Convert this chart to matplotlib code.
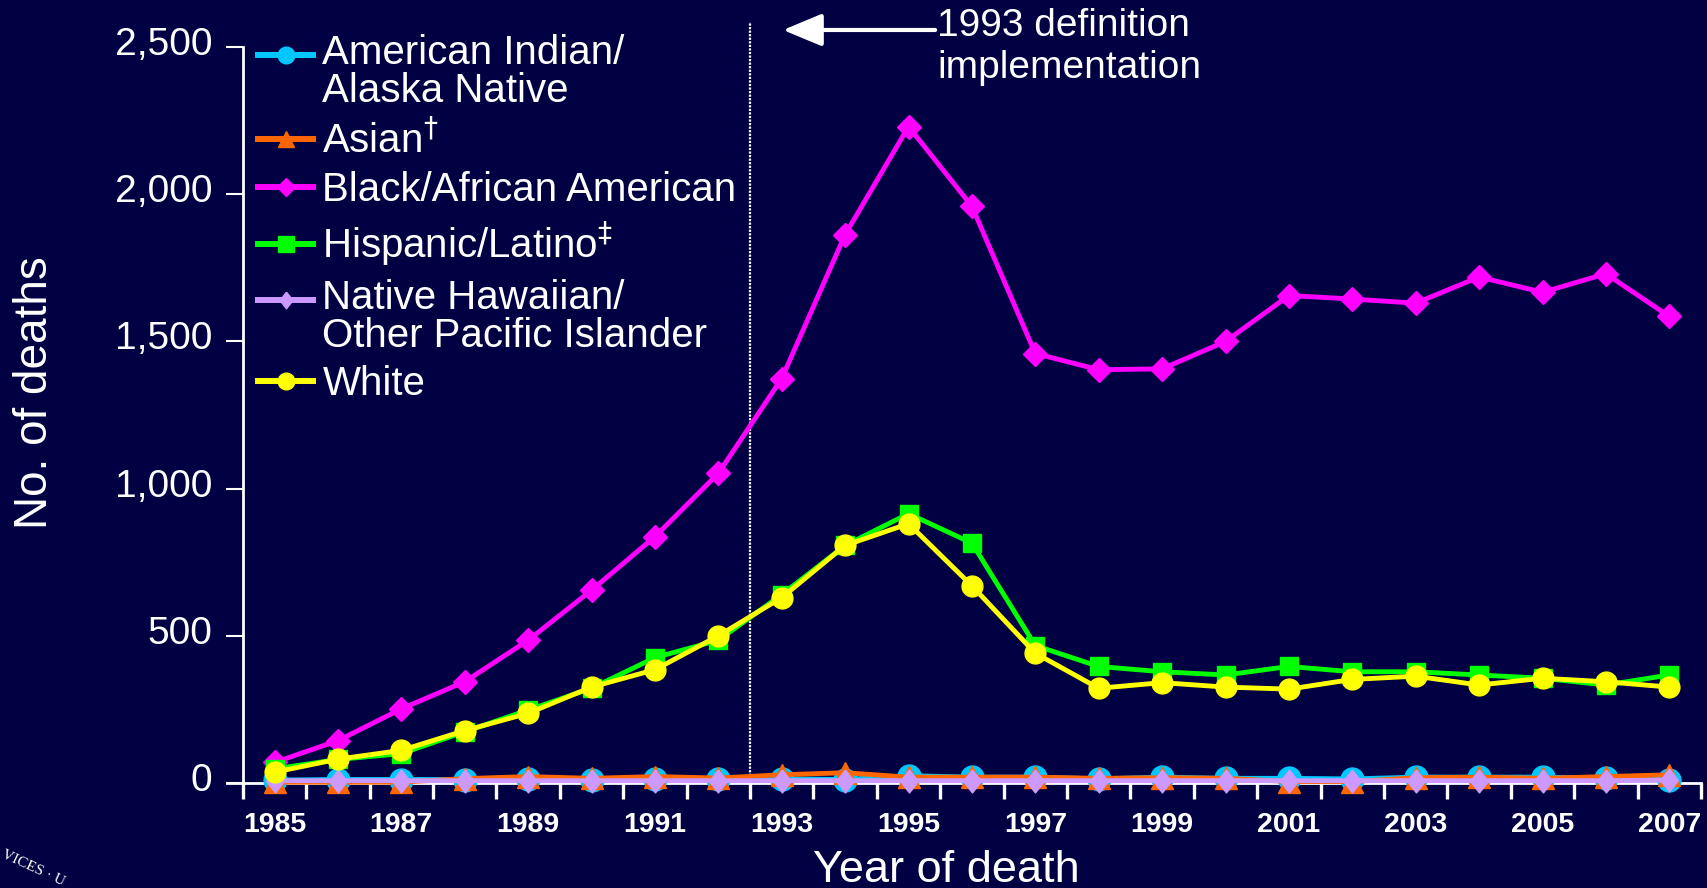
import numpy as np
import matplotlib
matplotlib.use("Agg")
import matplotlib.pyplot as plt
from matplotlib.lines import Line2D
from matplotlib.legend_handler import HandlerLine2D
from matplotlib.transforms import ScaledTranslation

plt.rcParams['font.family'] = ['Liberation Sans', 'DejaVu Sans']

years = list(range(1985, 2008))
year_labels = [str(y) for y in years[::2]]
y_ticks = [0, 500, 1000, 1500, 2000, 2500]
y_tick_labels = ["0", "500", "1,000", "1,500", "2,000", "2,500"]

# deaths per year
aian = [10, 12, 12, 12, 15, 12, 15, 13, 14, 12, 25, 20, 20, 14, 20, 16, 16, 14, 20, 20, 20, 16, 12]
asian = [3, 3, 3, 15, 22, 16, 22, 17, 28, 35, 20, 20, 20, 16, 18, 16, 5, 5, 18, 20, 16, 22, 28]
black = [70, 144, 252, 344, 485, 655, 837, 1052, 1374, 1863, 2230, 1959, 1459, 1404, 1407, 1500,
         1656, 1644, 1630, 1719, 1667, 1730, 1585]
hispanic = [48, 80, 100, 174, 248, 322, 426, 485, 640, 807, 915, 815, 467, 396, 378, 367,
            396, 378, 378, 367, 356, 333, 367]
nhopi = [8, 8, 8, 8, 8, 8, 8, 8, 8, 8, 8, 8, 8, 8, 8, 8, 8, 8, 8, 8, 8, 8, 10]
white = [37, 81, 111, 178, 237, 326, 385, 500, 630, 807, 881, 670, 441, 322, 341, 326,
         319, 352, 363, 333, 356, 344, 326]

labels = ["American Indian/\nAlaska Native", "Asian$^{\\dagger}$", "Black/African American",
          "Hispanic/Latino$^{\\ddagger}$", "Native Hawaiian/\nOther Pacific Islander", "White"]
values = [aian, asian, black, hispanic, nhopi, white]
colors = ["#00c8ff", "#ff6600", "#ff00ff", "#00ff00", "#cc99ff", "#ffff00"]
thin_diamond = [(0, 1), (0.78, 0), (0, -1), (-0.78, 0), (0, 1)]
markers = ["o", "^", "D", "s", thin_diamond, "o"]
msizes = [16.5, 16, 12, 13, 16.5, 15]
leg_msizes = [12, 12, 9, 12, 12, 12]

bg = "#000042"


class ShiftedHandler(HandlerLine2D):
    # put the handle next to the first line of a two-line label
    def __init__(self, shift, **kw):
        super().__init__(**kw)
        self.shift = shift

    def create_artists(self, legend, orig_handle, xdescent, ydescent, width, height, fontsize, trans):
        return super().create_artists(legend, orig_handle, xdescent, ydescent - 2 * self.shift,
                                      width, height, fontsize, trans)


fig = plt.figure(figsize=(17.08, 8.88), dpi=100)
fig.patch.set_facecolor(bg)
ax = fig.add_axes([0.1329, 0.1182, 0.8630, 0.8288])
ax.set_facecolor(bg)

x = np.arange(len(years))
for vals, c, m, ms in zip(values, colors, markers, msizes):
    ax.plot(x, vals, color=c, lw=3.5, marker=m, ms=ms, mec=c, clip_on=False, zorder=3)

ax.set_xlim(-0.75, 22.5)
ax.set_ylim(0, 2500)

for s in ["top", "right"]:
    ax.spines[s].set_visible(False)
ax.spines["left"].set_position(("data", -0.5))
ax.spines["left"].set_bounds(0, 2500)
for s in ["left", "bottom"]:
    ax.spines[s].set_color("white")
    ax.spines[s].set_linewidth(2)

ax.set_yticks(y_ticks, y_tick_labels)
ax.tick_params(axis="y", colors="white", length=12, width=1.5, pad=10, labelsize=28)
for lab in ax.get_yticklabels():
    lab.set_transform(lab.get_transform() + ScaledTranslation(0, 6 / 100, fig.dpi_scale_trans))

ax.set_xticks(np.arange(-0.5, 23, 1))
ax.set_xticklabels([])
ax.set_xticks(x[::2], year_labels, minor=True)
ax.tick_params(axis="x", which="major", colors="white", length=11.5, width=2.4)
ax.tick_params(axis="x", which="minor", colors="white", length=0, pad=21, labelsize=20.5)
for lab in ax.get_xticklabels(minor=True):
    lab.set_fontweight("bold")

ax.set_xlabel("Year of death", fontsize=32.5, color="white")
ax.xaxis.set_label_coords(0.488, -0.091)
ax.set_ylabel("No. of deaths", fontsize=33, color="white")
ax.yaxis.set_label_coords(-0.115, 0.531)

# 1993 case definition marker
ax.axvline(7.5, ymin=0, ymax=1.034, color="white", lw=1.6, ls=(0, (1, 0.6)), clip_on=False)
ax.annotate("", xy=(8.02, 2558), xytext=(10.42, 2558), annotation_clip=False,
            arrowprops=dict(arrowstyle="-|>,head_length=1.2,head_width=0.5", mutation_scale=20,
                            color="white", lw=3, shrinkA=0, shrinkB=0))
ax.text(10.45, 2632, "1993 definition\nimplementation", va="top", ha="left", fontsize=28,
        color="white", linespacing=1.2)

handles = [Line2D([], [], color=c, lw=4.3, marker=m, ms=ms, mec=c)
           for c, m, ms in zip(colors, markers, leg_msizes)]
hmap = {handles[0]: ShiftedHandler(12.5), handles[4]: ShiftedHandler(12.5)}
leg = ax.legend(handles, labels, loc="upper left", bbox_to_anchor=(0.021, 1.018), frameon=False,
                fontsize=29, handlelength=1.37, handletextpad=0.23, labelspacing=0.26,
                borderpad=0, borderaxespad=0, handler_map=hmap)
for t in leg.get_texts():
    t.set_color("white")
    t.set_linespacing(1.0)

fig.text(0.0, 0.0, "VICES · U", rotation=-25, fontsize=11, color="white",
         family="Liberation Serif", ha="left", va="bottom")

fig.savefig("out.png", dpi=100, facecolor=bg)
